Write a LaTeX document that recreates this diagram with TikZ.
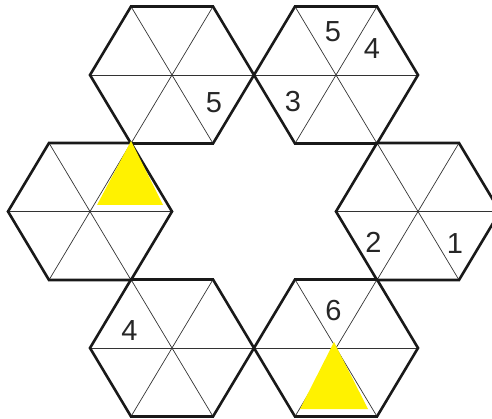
\documentclass[tikz,border=0pt]{standalone}
\usepackage{fontspec}
\setmainfont{Liberation Sans}

\begin{document}
\begin{tikzpicture}[
  x=1pt, y=-1pt,
  every node/.style={font=\fontsize{29}{29}\selectfont, text=black!85, inner sep=0pt},
  hexline/.style={line width=2.6pt, line join=miter, draw=black!90},
  spoke/.style={line width=0.7pt, draw=black!80},
  marker/.style={fill=yellow, draw=none}
]
\useasboundingbox (0,0) rectangle (492,419);

% ---------- Hexagons: spokes and outline ----------
\foreach \cx/\cy in {172/75, 336/75, 90/211.5, 418/211.5, 172/348, 336/348} {
  \draw[spoke] (\cx-82,\cy) -- (\cx+82,\cy);
  \draw[spoke] (\cx-41,\cy-68.5) -- (\cx+41,\cy+68.5);
  \draw[spoke] (\cx+41,\cy-68.5) -- (\cx-41,\cy+68.5);
  \draw[hexline] (\cx-82,\cy) -- (\cx-41,\cy-68.5) -- (\cx+41,\cy-68.5)
    -- (\cx+82,\cy) -- (\cx+41,\cy+68.5) -- (\cx-41,\cy+68.5) -- cycle;
}

% ---------- Yellow markers ----------
\fill[marker] (131,141) -- (163,205) -- (97,205) -- cycle; % left hexagon
\fill[marker] (334,342) -- (368,409) -- (300,409) -- cycle; % bottom-right hexagon

% ---------- Numbers ----------
\node (topleftFive) at (214,102.5) {5};
\node (toprightFive) at (333,31.5) {5};
\node (toprightFour) at (372,48.5) {4};
\node (toprightThree) at (293,102) {3};
\node (rightTwo) at (373.5,242.5) {2};
\node (rightOne) at (455,244) {1};
\node (bottomleftFour) at (129.5,331) {4};
\node (bottomrightSix) at (333.5,310.5) {6};

\end{tikzpicture}
\end{document}
